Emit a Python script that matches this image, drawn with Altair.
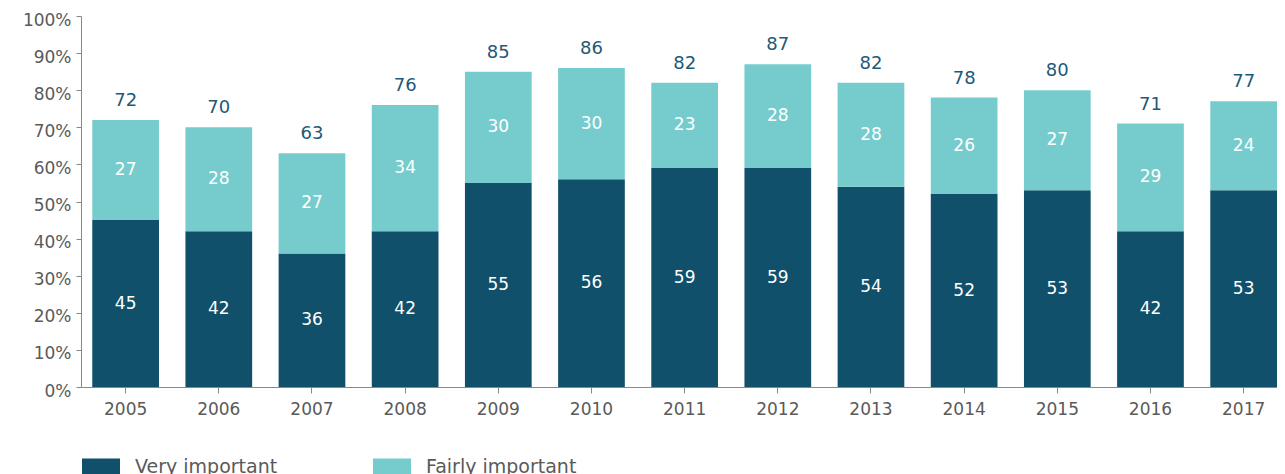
import altair as alt
import pandas as pd

years = ["2005", "2006", "2007", "2008", "2009", "2010", "2011", "2012", "2013", "2014", "2015", "2016", "2017"]
very_important = [45, 42, 36, 42, 55, 56, 59, 59, 54, 52, 53, 42, 53]
fairly_important = [27, 28, 27, 34, 30, 30, 23, 28, 28, 26, 27, 29, 24]
totals = [72, 70, 63, 76, 85, 86, 82, 87, 82, 78, 80, 71, 77]
series = ["Very important", "Fairly important"]
colors = ["#10506b", "#76cccd"]
y_ticks = [0, 10, 20, 30, 40, 50, 60, 70, 80, 90, 100]

rows = []
for i, yr in enumerate(years):
    v, f = very_important[i], fairly_important[i]
    rows.append({"year": yr, "series": series[0], "start": 0, "end": v, "mid": v / 2, "label": str(v), "ord": 0})
    rows.append({"year": yr, "series": series[1], "start": v, "end": v + f, "mid": v + f / 2, "label": str(f), "ord": 1})
df = pd.DataFrame(rows)
tot = pd.DataFrame({"year": years, "total": totals})

FONT = "DejaVu Sans"
GREY = "#5a5a5a"

x_axis = alt.Axis(labelAngle=0, labelFontSize=17, labelColor=GREY, labelFont=FONT,
                  tickSize=6, tickColor="#888888", domainColor="#888888",
                  labelPadding=8, grid=False, title=None)
y_axis = alt.Axis(values=y_ticks, labelExpr="datum.value + '%'", labelFontSize=17,
                  labelColor=GREY, labelFont=FONT, tickSize=5, tickColor="#888888",
                  domainColor="#888888", grid=False, labelPadding=5,
                  labelOverlap=False, labelOffset=4, labelBound=False, title=None)
x_scale = alt.Scale(paddingInner=0.284, paddingOuter=0.0605, align=1)
y_scale = alt.Scale(domain=[0, 100], nice=False)

bars = alt.Chart(df).mark_bar().encode(
    x=alt.X("year:N", sort=years, scale=x_scale, axis=x_axis),
    y=alt.Y("start:Q", scale=y_scale, axis=y_axis),
    y2="end:Q",
    color=alt.Color("series:N", sort=series,
                    scale=alt.Scale(domain=series, range=colors),
                    legend=alt.Legend(title=None, orient="none", direction="horizontal",
                                      legendX=1, legendY=432,
                                      symbolType="M-1,-0.45H1V0.45H-1Z", symbolSize=1444,
                                      symbolStrokeWidth=0, symbolOpacity=1,
                                      labelFontSize=19, labelColor=GREY, labelFont=FONT,
                                      labelOffset=15, columnPadding=95)),
)

inner = alt.Chart(df).mark_text(color="white", fontSize=17, font=FONT, baseline="middle").encode(
    x=alt.X("year:N", sort=years, scale=x_scale, axis=x_axis),
    y=alt.Y("mid:Q", scale=y_scale, axis=y_axis),
    text="label:N",
)

top = alt.Chart(tot).mark_text(color="#1d5a78", fontSize=18, font=FONT, baseline="bottom", dy=-10).encode(
    x=alt.X("year:N", sort=years, scale=x_scale, axis=x_axis),
    y=alt.Y("total:Q", scale=y_scale, axis=y_axis),
    text="total:Q",
)

chart = alt.layer(bars, inner, top).properties(
    width=1196, height=371,
    padding={"left": 73, "top": 8, "right": 0, "bottom": 95},
    autosize="none",
    background="white",
).configure_view(strokeWidth=0, stroke="transparent")

chart.save("out.html", embed_options={"renderer": "svg", "actions": False})
